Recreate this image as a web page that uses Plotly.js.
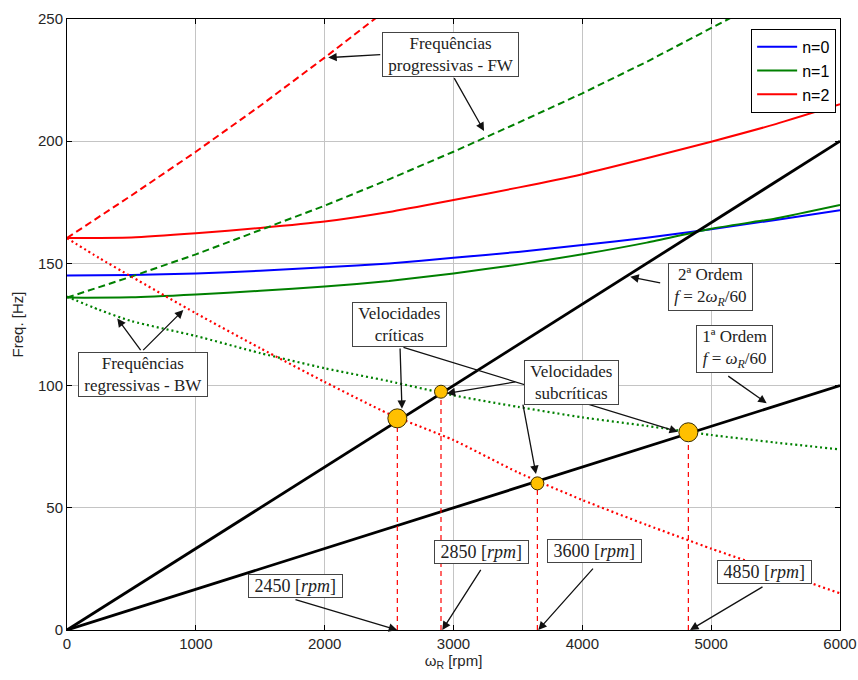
<!DOCTYPE html>
<html>
<head>
<meta charset="utf-8">
<script src="https://cdn.plot.ly/plotly-3.0.1.min.js"></script>
<style>html,body{margin:0;padding:0;background:#fff;}#chart{width:858px;height:680px;}</style>
</head>
<body>
<div id="chart"></div>
<script>
// ---- data ----
const rpmGrid = [0, 500, 1000, 1500, 2000, 2500, 3000, 3500, 4000, 4500, 5000, 5500, 6000];
const n0Hz = [145.0, 145.3, 145.9, 147.0, 148.4, 150.0, 152.3, 154.7, 157.5, 160.5, 164.0, 167.8, 171.8];
const n1Hz = [136.0, 136.1, 137.3, 138.8, 140.5, 142.8, 145.9, 149.5, 153.7, 158.5, 164.2, 168.4, 173.9];
const n2Hz = [160.4, 160.6, 162.3, 164.5, 167.1, 171.0, 175.9, 181.0, 186.5, 193.0, 199.8, 207.0, 215.1];

const fwRedRpm = [0, 500, 1000, 1500, 2000, 2400];
const fwRedHz = [160.4, 177.8, 195.7, 214.5, 234.2, 250.5];
const fwGreenRpm = [0, 500, 1000, 1500, 2000, 2500, 3000, 3500, 4000, 4500, 5000, 5200];
const fwGreenHz = [136.0, 144.6, 153.7, 163.8, 173.6, 184.4, 195.7, 207.5, 219.6, 232.5, 246.2, 251.8];

const bwRpm = [0, 250, 500, 1000, 1500, 2000, 2500, 3000, 3500, 4000, 4500, 5000, 5500, 6000];
const bwRedHz = [160.3, 152.2, 144.6, 129.6, 115.3, 101.5, 88.4, 77.7, 64.5, 53.2, 43.0, 33.3, 24.2, 15.0];
const bwGreenHz = [136.4, 131.0, 126.4, 120.3, 113.3, 107.1, 101.8, 96.0, 91.3, 87.0, 83.5, 79.8, 76.7, 73.9];

const orderRpm = [0, 6000];
const order1Hz = [0, 100];
const order2Hz = [0, 200];

const critRpm = [2564, 4823];
const critHz = [86.6, 80.9];
const subRpm = [2903, 3651];
const subHz = [97.5, 60.0];

const legendNames = ['n=0', 'n=1', 'n=2'];
const xTicks = [0, 1000, 2000, 3000, 4000, 5000, 6000];
const yTicks = [0, 50, 100, 150, 200, 250];

// ---- traces ----
const BLUE = '#0000ff', GREEN = '#008000', RED = '#ff0000';
const traces = [];
traces.push({x: rpmGrid, y: n0Hz, mode: 'lines', name: legendNames[0], line: {color: BLUE, width: 2, shape: 'spline', smoothing: 0.6}});
traces.push({x: rpmGrid, y: n1Hz, mode: 'lines', name: legendNames[1], line: {color: GREEN, width: 2, shape: 'spline', smoothing: 0.6}});
traces.push({x: rpmGrid, y: n2Hz, mode: 'lines', name: legendNames[2], line: {color: RED, width: 2, shape: 'spline', smoothing: 0.6}});
traces.push({x: fwRedRpm, y: fwRedHz, mode: 'lines', showlegend: false, line: {color: RED, width: 2, dash: '7px,4px'}});
traces.push({x: fwGreenRpm, y: fwGreenHz, mode: 'lines', showlegend: false, line: {color: GREEN, width: 2, dash: '7px,4px'}});
traces.push({x: bwRpm, y: bwRedHz, mode: 'lines', showlegend: false, line: {color: RED, width: 2.2, dash: '2px,3px', shape: 'spline', smoothing: 0.6}});
traces.push({x: bwRpm, y: bwGreenHz, mode: 'lines', showlegend: false, line: {color: GREEN, width: 2.2, dash: '2px,3px', shape: 'spline', smoothing: 0.6}});
traces.push({x: orderRpm, y: order2Hz, mode: 'lines', showlegend: false, line: {color: '#000', width: 2.8}});
traces.push({x: orderRpm, y: order1Hz, mode: 'lines', showlegend: false, line: {color: '#000', width: 2.8}});
const allRpm = critRpm.concat(subRpm), allHz = critHz.concat(subHz);
for (let i = 0; i < allRpm.length; i++) {
  traces.push({x: [allRpm[i], allRpm[i]], y: [0, allHz[i]], mode: 'lines', showlegend: false,
    line: {color: RED, width: 1.2, dash: '5px,4px'}});
}
traces.push({x: critRpm, y: critHz, mode: 'markers', showlegend: false,
  marker: {size: 19, color: '#ffc000', line: {color: '#3a2e00', width: 1}}});
traces.push({x: subRpm, y: subHz, mode: 'markers', showlegend: false,
  marker: {size: 13, color: '#ffc000', line: {color: '#3a2e00', width: 1}}});

// ---- annotations ----
const SERIF = 'Liberation Serif, Times New Roman, serif';
const SP = '&nbsp;';
function arrow(tx, ty, sx, sy) {
  return {x: tx, y: ty, ax: sx, ay: sy, xref: 'x', yref: 'y', axref: 'x', ayref: 'y',
    text: '', showarrow: true, arrowhead: 2, arrowsize: 1.3, arrowwidth: 1.3,
    arrowcolor: '#111', standoff: 0, startstandoff: 0};
}
function box(cx, cy, lines, size) {
  const txt = lines.map(function (s) { return SP + s + SP; }).join('<br>');
  return {x: cx, y: cy, xref: 'x', yref: 'y', text: txt, showarrow: false,
    font: {family: SERIF, size: size || 17, color: '#222'}, bgcolor: '#fff',
    bordercolor: '#444', borderwidth: 1, borderpad: 1, align: 'center'};
}
const annotations = [
  arrow(2028, 234.2, 2443, 235.5),
  arrow(3237, 204.2, 2999, 226.4),
  arrow(390, 127.5, 580, 113.9),
  arrow(903, 130.9, 580, 113.9),
  arrow(2600, 90.5, 2585, 115.8),
  arrow(4742, 81.1, 2600, 115.8),
  arrow(2947, 96.8, 3491, 101.6),
  arrow(3640, 63.8, 3537, 92.8),
  arrow(4372, 144.5, 4616, 141.9),
  arrow(5431, 92.8, 5121, 104.3),
  arrow(2563, 0, 1762, 12.6),
  arrow(2913, 0, 3219, 25.2),
  arrow(3658, 0, 4093, 25.7),
  arrow(4836, 0, 5410, 18.0),
  box(2973, 235.5, ['Frequências', 'progressivas - FW']),
  box(586, 104.7, ['Frequências', 'regressivas - BW']),
  box(2581, 125.2, ['Velocidades', 'críticas']),
  box(3916, 101.1, ['Velocidades', 'subcríticas']),
  box(4995, 140.3, ['2ª Ordem', '<i>f</i> = 2<i>ω<sub>R</sub></i>/60']),
  box(5181, 115.0, ['1ª Ordem', '<i>f</i> = <i>ω<sub>R</sub></i>/60']),
  box(1770, 18.0, ['2450 [<i>rpm</i>]'], 18),
  box(3221, 31.9, ['2850 [<i>rpm</i>]'], 18),
  box(4091, 32.3, ['3600 [<i>rpm</i>]'], 18),
  box(5416, 23.7, ['4850 [<i>rpm</i>]'], 18)
];

const SANS = 'Liberation Sans, Arial, sans-serif';
const axisCommon = {
  showline: true, linecolor: '#000', linewidth: 1, mirror: 'ticks',
  ticks: 'inside', ticklen: 5, tickcolor: '#000',
  showgrid: true, gridcolor: '#c4c4c4', gridwidth: 1, zeroline: false,
  tickfont: {family: SANS, size: 15, color: '#262626'}
};
const layout = {
  width: 858, height: 680,
  margin: {l: 67, r: 18, t: 19, b: 50},
  paper_bgcolor: '#fff', plot_bgcolor: '#fff',
  font: {family: SANS},
  xaxis: Object.assign({}, axisCommon, {range: [0, 6000], tickvals: xTicks,
    title: {text: 'ω<sub>R</sub> [rpm]', font: {family: SANS, size: 15, color: '#262626'}, standoff: 4}}),
  yaxis: Object.assign({}, axisCommon, {range: [0, 250], tickvals: yTicks,
    title: {text: 'Freq. [Hz]', font: {family: SANS, size: 15, color: '#262626'}, standoff: 10}}),
  showlegend: true,
  legend: {x: 0.995, y: 0.984, xanchor: 'right', yanchor: 'top',
    bgcolor: '#fff', bordercolor: '#000', borderwidth: 1, itemwidth: 40,
    font: {family: SANS, size: 16, color: '#000'}, tracegroupgap: 0},
  annotations: annotations
};
Plotly.newPlot('chart', traces, layout, {displayModeBar: false, staticPlot: true});
</script>
</body>
</html>
